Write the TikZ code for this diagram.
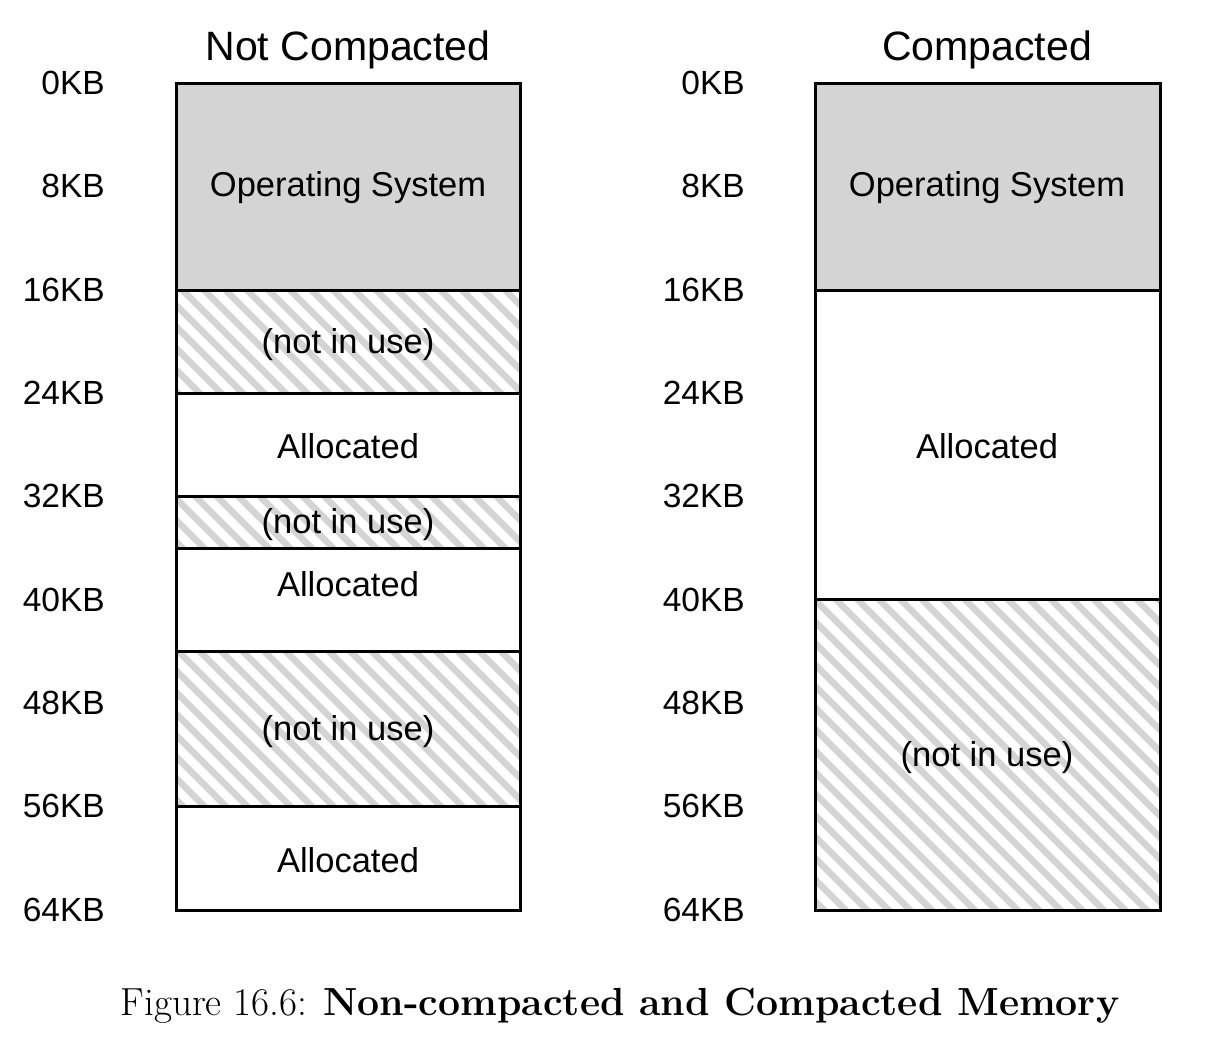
\documentclass[tikz,border=0pt]{standalone}
\usepackage{fontspec}
\newfontfamily\sansf{Liberation Sans}
\begin{document}
\begin{tikzpicture}[x=1pt,y=-1pt,
  blk/.style={line width=3pt, draw=black},
  lbl/.style={font=\sansf\fontsize{33.5}{40}\selectfont, anchor=east, inner sep=0pt},
  txt/.style={font=\sansf\fontsize{34.5}{40}\selectfont, inner sep=0pt},
  ttl/.style={font=\sansf\fontsize{41}{48}\selectfont, inner sep=0pt},
  osfill/.style={fill=black!17},
  hatchline/.style={line width=6.5pt, draw=black!17}]
\useasboundingbox (0,0) rectangle (1218,1041);
\newcommand\hatchbox[4]{%
  \begin{scope}
    \clip (#1,#2) rectangle (#3,#4);
    \foreach \k in {-60,...,60} { \draw[hatchline] ({\k*21.5},0) -- ++(1100,1100); }
  \end{scope}}
% ---- left column: not compacted
\fill[osfill] (176,83) rectangle (520,290);
\hatchbox{176}{290}{520}{393}
\hatchbox{176}{496}{520}{548}
\hatchbox{176}{651}{520}{806}
\draw[blk] (176,83) rectangle (520,910);
\foreach \yy in {290,393,496,548,651,806} { \draw[blk] (176,\yy) -- (520,\yy); }
% ---- right column: compacted
\fill[osfill] (815,83) rectangle (1160,290);
\hatchbox{815}{599}{1160}{910}
\draw[blk] (815,83) rectangle (1160,910);
\foreach \yy in {290,599} { \draw[blk] (815,\yy) -- (1160,\yy); }
% ---- titles
\node[ttl] (t1) at (348,50) {Not Compacted};
\node[ttl] (t2) at (987,50) {Compacted};
% ---- address labels
\foreach \kb/\yy [count=\i] in {0/83,8/186,16/290,24/393,32/496,40/600,48/703,56/806,64/910} {
  \node[lbl] (la\i) at (105,\yy) {\kb KB};
  \node[lbl] (ra\i) at (745,\yy) {\kb KB};
}
% ---- block texts, left
\node[txt] (los) at (348,188) {Operating System};
\node[txt] (lf1) at (348,345) {(not in use)};
\node[txt] (la1t) at (348,446) {Allocated};
\node[txt] (lf2) at (348,525) {(not in use)};
\node[txt] (la2t) at (348,584) {Allocated};
\node[txt] (lf3) at (348,732) {(not in use)};
\node[txt] (la3t) at (348,860) {Allocated};
% ---- block texts, right
\node[txt] (ros) at (987,188) {Operating System};
\node[txt] (rat) at (987,446) {Allocated};
\node[txt] (rf) at (987,758) {(not in use)};
% ---- caption
\node[font=\fontsize{39.2}{48}\selectfont, inner sep=0pt] (cap) at (620,1006) {Figure 16.6: \textbf{Non-compacted and Compacted Memory}};
\end{tikzpicture}
\end{document}
